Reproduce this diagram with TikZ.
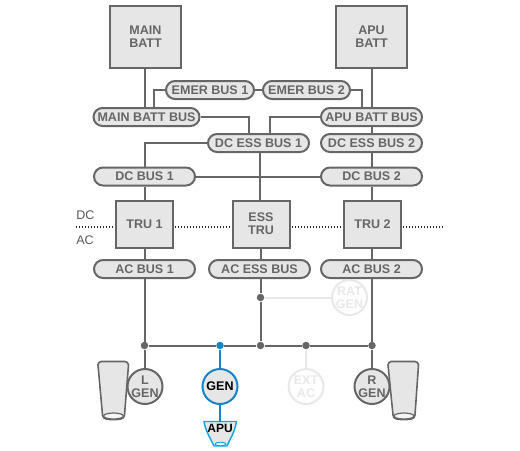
\documentclass[tikz,border=0pt]{standalone}
\usepackage{fontspec}
\setmainfont{Liberation Sans}
\usetikzlibrary{calc}
\definecolor{dk}{HTML}{666666}
\definecolor{fl}{HTML}{E6E6E6}
\definecolor{lt}{HTML}{E8E8E8}
\definecolor{blu}{HTML}{1584C8}
\newdimen\px \px=0.75pt
\tikzset{
  x=0.75pt,y=-0.75pt,
  wire/.style={draw=dk,line width=1.5pt},
  ltwire/.style={draw=lt,line width=1.5pt},
  bluwire/.style={draw=blu,line width=1.5pt},
  lbl/.style={font=\fontsize{9.4pt}{10pt}\selectfont\bfseries,text=dk,align=center,inner sep=0pt},
  sq/.style={lbl,draw=dk,fill=fl,line width=1.5pt,rectangle},
  bus/.style={lbl,draw=dk,fill=fl,line width=1.5pt,rectangle,rounded corners=6.75pt,minimum height=18*\px,minimum width=100*\px},
  gencirc/.style={lbl,circle,draw=dk,fill=fl,line width=1.5pt,minimum size=35*\px},
  ltcirc/.style={gencirc,draw=lt,fill=white,text=lt},
  blucirc/.style={gencirc,draw=blu,text=black},
  jn/.style={circle,fill=dk,inner sep=0pt,minimum size=7.5*\px},
  side/.style={font=\fontsize{9.4pt}{10pt}\selectfont,text=dk!85!black,inner sep=0pt,anchor=west},
  engine/.style={draw=dk,fill=fl,line width=1.2pt,line join=round}
}
\begin{document}
\begin{tikzpicture}
\useasboundingbox (0,0) rectangle (520,450);
% coordinates for dotted divider
\coordinate (dl) at (76,227);
\coordinate (dr) at (443,227);
\draw[dk!40!black,line width=1.1pt,dash pattern=on 1.1pt off 1.15pt] (dl) -- (dr);
\node[side] (dc) at (76,215) {DC};
\node[side] (ac) at (76,240) {AC};
% boxes and buses
\node[sq,minimum width=71*\px,minimum height=62*\px] (mainbatt) at (145.5,37) {MAIN\\BATT};
\node[sq,minimum width=71*\px,minimum height=62*\px] (apubatt) at (371.5,37) {APU\\BATT};
\node[bus,minimum width=88*\px] (emer1) at (210,90) {EMER BUS 1};
\node[bus,minimum width=87*\px] (emer2) at (306.5,90) {EMER BUS 2};
\node[bus,minimum width=106*\px] (mainbus) at (146.5,117) {MAIN BATT BUS};
\node[bus,minimum width=101*\px] (apubus) at (371.5,117) {APU BATT BUS};
\node[bus,minimum width=101*\px] (ess1) at (258.5,143) {DC ESS BUS 1};
\node[bus,minimum width=101*\px] (ess2) at (371.5,143) {DC ESS BUS 2};
\node[bus,minimum width=101*\px] (dc1) at (144.5,176.5) {DC BUS 1};
\node[bus,minimum width=101*\px] (dc2) at (371.5,176.5) {DC BUS 2};
\node[sq,minimum width=57*\px,minimum height=47*\px] (tru1) at (144.5,224) {TRU 1};
\node[sq,minimum width=57*\px,minimum height=47*\px] (esstru) at (261,224) {ESS\\TRU};
\node[sq,minimum width=57*\px,minimum height=47*\px] (tru2) at (372.5,224) {TRU 2};
\node[bus,minimum width=101*\px] (ac1) at (144.5,269) {AC BUS 1};
\node[bus,minimum width=101*\px] (acess) at (259.5,269) {AC ESS BUS};
\node[bus,minimum width=101*\px] (ac2) at (371.5,269) {AC BUS 2};
% junctions
\node[jn] (jrat) at (260.5,297.5) {};
\node[jn] (jl) at (144.5,345.5) {};
\node[jn,fill=blu] (jg) at (220,345.5) {};
\node[jn] (je) at (260.5,345.5) {};
\node[jn] (jx) at (306,345.5) {};
\node[jn] (jr) at (372,345.5) {};
% generators
\node[ltcirc] (rat) at (349.5,297.5) {RAT\\GEN};
\node[ltcirc] (ext) at (306,386.5) {EXT\\AC};
% engines
\draw[engine] (101,361.5) -- (125,361.5) to[out=0,in=95] (128.5,365) -- (124.5,415) to[out=-90,in=0] (113.5,419.5) to[out=180,in=-90] (102.5,415) -- (98,365) to[out=85,in=180] (101,361.5) -- cycle;
\draw[draw=dk,fill=white!60!fl,line width=0.9pt] (113.5,416) ellipse (10 and 3);
\draw[engine] (391,361.5) -- (415,361.5) to[out=0,in=95] (418.5,365) -- (415,415) to[out=-90,in=0] (404,419.5) to[out=180,in=-90] (393,415) -- (388,365) to[out=85,in=180] (391,361.5) -- cycle;
\draw[draw=dk,fill=white!60!fl,line width=0.9pt] (404,416) ellipse (10 and 3);
\node[gencirc] (lgen) at (145,386.5) {L\\GEN};
\node[gencirc] (rgen) at (372,386.5) {R\\GEN};
\node[blucirc] (gen) at (220,386.5) {GEN};
% APU
\draw[draw=blu!70!cyan,fill=fl,line width=1.1pt,line join=round] (204,421.5) -- (236.5,421.5) to[out=-100,in=65] (227,446) -- (214,446) to[out=115,in=-80] (204,421.5) -- cycle;
\draw[draw=blu!70!cyan,fill=white!60!fl,line width=0.7pt] (220.5,444) ellipse (5.5 and 1.8);
\node[lbl,text=black,font=\fontsize{9pt}{10pt}\selectfont\bfseries,minimum width=32*\px,minimum height=14*\px,anchor=north] (apu) at (220,421.5) {APU};
% connectors
\draw[wire] (mainbatt.south -| 145,0) -- (145,0 |- mainbus.north);
\draw[wire] (apubatt.south) -- (apubus.north);
\draw[wire] (emer1.west) -- (154,90) -- (154,0 |- mainbus.north);
\draw[wire] (emer1.east) -- (emer2.west);
\draw[wire] (emer2.east) -- (361.5,90) -- (361.5,0 |- apubus.north);
\draw[wire] (mainbus.east) -- (249,117) -- (249,0 |- ess1.north);
\draw[wire] (apubus.west) -- (270,117) -- (270,0 |- ess1.north);
\draw[wire] (apubus.south) -- (ess2.north);
\draw[wire] (ess2.south) -- (dc2.north);
\draw[wire] (ess1.west) -- (145,143) -- (145,0 |- dc1.north);
\draw[wire] (dc1.east) -- (dc2.west);
\draw[wire] (260,0 |- ess1.south) -- (260,0 |- esstru.north);
\draw[wire] (dc1.south -| 145,0) -- (145,0 |- tru1.north);
\draw[wire] (dc2.south) -- (dc2.south |- tru2.north);
\draw[wire] (tru1.south -| 145,0) -- (145,0 |- ac1.north);
\draw[wire] (261,0 |- esstru.south) -- (261,0 |- acess.north);
\draw[wire] (dc2.south |- tru2.south) -- (dc2.south |- ac2.north);
\draw[wire] (145,0 |- ac1.south) -- (145,0 |- jl);
\draw[wire] (jrat |- acess.south) -- (jrat);
\draw[wire] (jrat) -- (je);
\draw[wire] (dc2.south |- ac2.south) -- (dc2.south |- jr);
\draw[wire] (jl) -- (jg) -- (je) -- (jx) -- (jr);
\draw[wire] (jl) -- (lgen.north -| jl);
\draw[wire] (jr) -- (rgen.north -| jr);
\draw[ltwire] (jrat) -- (rat.west);
\draw[ltwire] (jx) -- (ext.north);
\draw[bluwire] (jg) -- (gen.north);
\draw[bluwire] (gen.south) -- (apu.north);
\end{tikzpicture}
\end{document}
